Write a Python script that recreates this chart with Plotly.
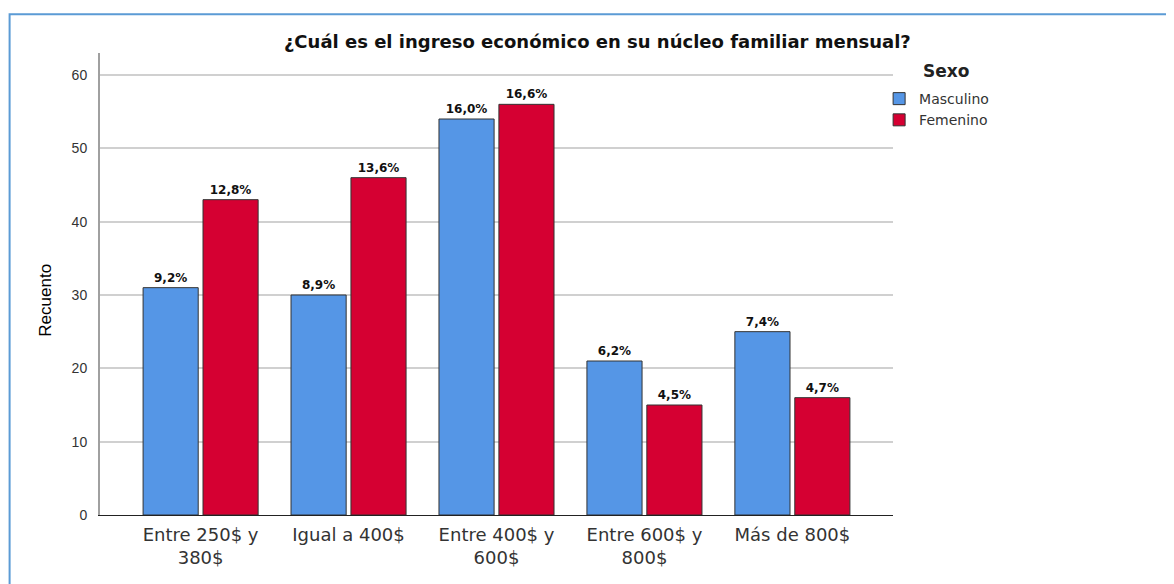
import plotly.graph_objects as go

categorias = ['Entre 250$ y<br>380$', 'Igual a 400$', 'Entre 400$ y<br>600$',
              'Entre 600$ y<br>800$', 'Más de 800$']
masculino = [31, 30, 54, 21, 25]
femenino = [43, 46, 56, 15, 16]
pct_masc = ['9,2%', '8,9%', '16,0%', '6,2%', '7,4%']
pct_fem = ['12,8%', '13,6%', '16,6%', '4,5%', '4,7%']

ANCHO = 'DejaVu Sans'
ARIAL = 'Arial, Liberation Sans'

fig = go.Figure()
fig.add_trace(go.Bar(
    x=categorias, y=masculino, name='Masculino', text=pct_masc,
    marker=dict(color='#5596E6', line=dict(color='#333333', width=1)),
))
fig.add_trace(go.Bar(
    x=categorias, y=femenino, name='Femenino', text=pct_fem,
    marker=dict(color='#D50032', line=dict(color='#333333', width=1)),
))
fig.update_traces(
    textposition='outside', cliponaxis=False,
    textfont=dict(family=ANCHO, size=12, color='#111111', weight='bold'),
    hoverinfo='skip',
)

fig.update_layout(
    width=1174, height=584,
    barmode='group', bargap=0.19, bargroupgap=0.08,
    plot_bgcolor='white', paper_bgcolor='white',
    font=dict(family=ARIAL, color='#333333'),
    margin=dict(l=92, r=289, t=45, b=77),
    title=dict(text='<b>¿Cuál es el ingreso económico en su núcleo familiar mensual?</b>',
               x=0.502, xanchor='center', y=0.943, yanchor='middle',
               font=dict(family=ANCHO, size=18, color='#111111')),
    xaxis=dict(
        range=[-0.68, 4.68], showgrid=False, showline=True, linecolor='#222222',
        linewidth=1, ticks='', ticklabelstandoff=3,
        tickfont=dict(family=ANCHO, size=18, color='#333333'),
    ),
    yaxis=dict(
        range=[0, 63], dtick=10, showgrid=True, gridcolor='#d0d0d0', gridwidth=1.5,
        showline=True, linecolor='#a0a0a0', linewidth=2, ticks='',
        ticklabelstandoff=8, zeroline=False,
        tickfont=dict(family=ARIAL, size=14, color='#333333'),
    ),
    legend=dict(
        x=0.9825, xanchor='left', y=0.935, yanchor='top',
        font=dict(family=ANCHO, size=14, color='#333333'), tracegroupgap=0,
        itemwidth=30,
    ),
    annotations=[
        dict(text='<b>Sexo</b>', xref='paper', yref='paper',
             x=1.035, xanchor='left', y=0.961, yanchor='middle', showarrow=False,
             font=dict(family=ANCHO, size=17, color='#222222')),
        dict(text='Recuento', xref='paper', yref='paper', textangle=-90,
             x=-0.0687, xanchor='center', y=0.465, yanchor='middle', showarrow=False,
             font=dict(family=ARIAL, size=17, color='#000000')),
    ],
    shapes=[dict(type='rect', xref='paper', yref='paper',
                 x0=-0.114, x1=1.5, y0=-0.3, y1=1.084,
                 line=dict(color='#5B9BD5', width=2))],
)

fig.write_html('out.html')
